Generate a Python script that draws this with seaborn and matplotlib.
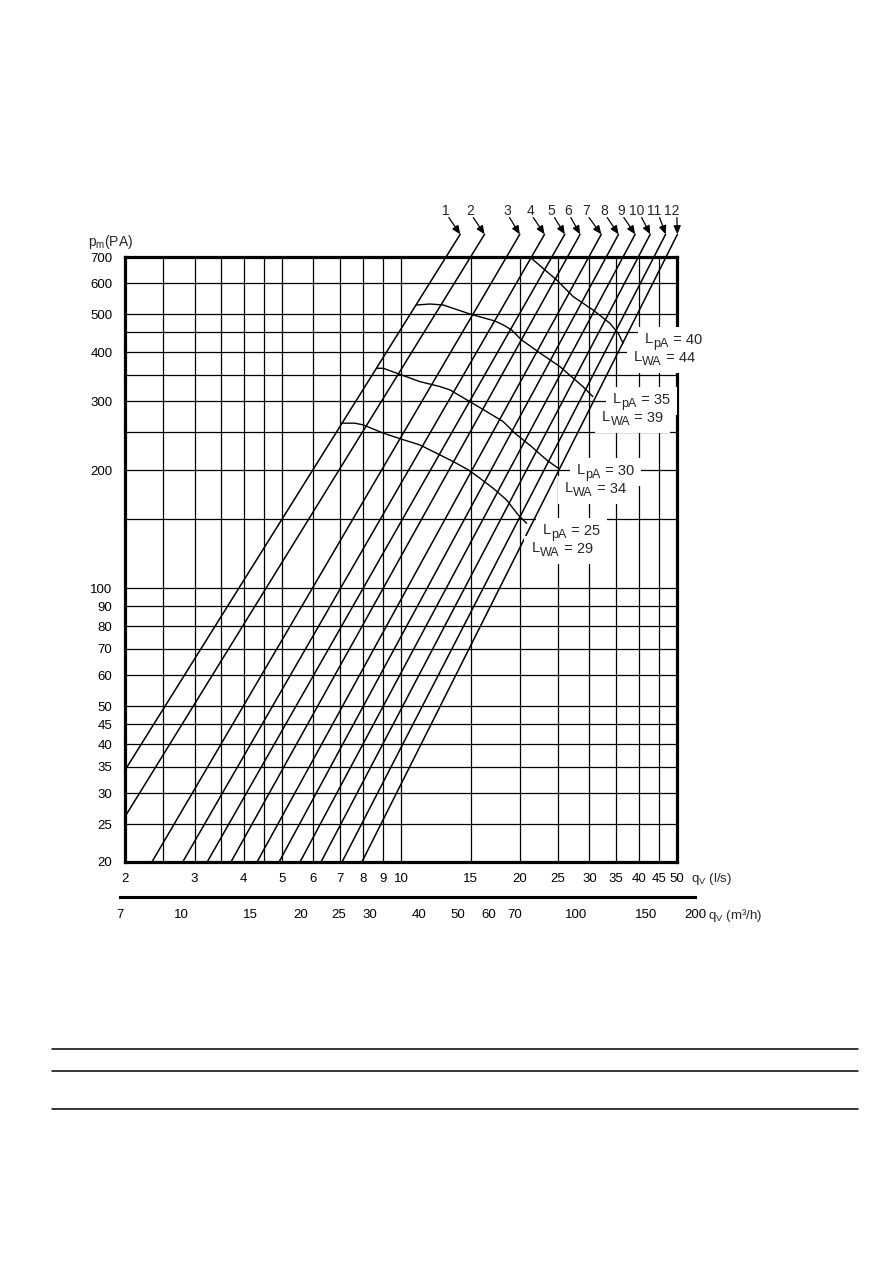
import numpy as np
import pandas as pd
import matplotlib
matplotlib.use("Agg")
import matplotlib.pyplot as plt
from matplotlib.lines import Line2D
from matplotlib.patches import Rectangle
from matplotlib.transforms import Bbox, IdentityTransform
from matplotlib.ticker import FixedLocator, FixedFormatter, NullFormatter
import seaborn as sns

# ---------------- data ----------------
LINE_IDS = [1, 2, 3, 4, 5, 6, 7, 8, 9, 10, 11, 12]
LINE_Q_START = [2.0, 2.0, 2.34, 2.80, 3.23, 3.71, 4.32, 4.91, 5.55, 6.27, 7.09, 7.96]     # l/s
LINE_P_START = [34.3, 26.1, 20, 20, 20, 20, 20, 20, 20, 20, 20, 20]                         # Pa
LINE_Q_AT_700 = [13.0, 15.0, 18.5, 21.4, 24.1, 26.4, 29.9, 33.1, 36.5, 39.9, 43.7, 46.9]   # l/s at 700 Pa
P_REF = 700
P_TIP = 800

C25_Q = [7.07, 7.64, 8.02, 9.02, 10.03, 11.16, 12.3, 13.56, 14.8, 15.84, 17.11, 18.5, 19.8, 20.8]
C25_P = [263.6, 263.6, 261, 248.6, 240, 232, 221, 210.4, 200.4, 190.8, 179.9, 168, 153.8, 146.4]
C30_Q = [8.67, 9.02, 10.03, 11.16, 12.55, 13.3, 14.94, 16.47, 18.15, 19.42, 21.4, 23.37, 25.0]
C30_P = [364, 364, 350, 336.6, 326.9, 320.6, 299.2, 282.2, 266.1, 248.6, 229.8, 212.4, 202.4]
C35_Q = [10.95, 11.84, 12.79, 14.94, 17.29, 18.15, 19.06, 20.2, 22.47, 25.26, 28.88, 30.6]
C35_P = [528, 531, 528, 500.8, 480.6, 469.6, 456, 430, 398.4, 367.6, 326.9, 308.2]
C40_Q = [21.2, 24.78, 27.29, 30.66, 33.8, 35.5, 36.5]
C40_P = [700, 611.8, 554.6, 512.6, 474.2, 447.2, 421.8]
LPA_LEVELS = [25, 30, 35, 40]
LWA_LEVELS = [29, 34, 39, 44]
# label anchors (left edge, vertical centre) for the noise labels, in chart units
LPA_LABEL_Q = [22.9, 27.9, 34.4, 41.5]
LPA_LABEL_P = [141.7, 201, 305.8, 435]
LWA_LABEL_Q = [21.4, 26.0, 32.3, 38.9]
LWA_LABEL_P = [127.5, 181.3, 275, 391]

X_LABEL_TICKS = [2, 3, 4, 5, 6, 7, 8, 9, 10, 15, 20, 25, 30, 35, 40, 45, 50]
X_EXTRA_GRID = [2.5, 3.5, 4.5]
Y_LABEL_TICKS = [20, 25, 30, 35, 40, 45, 50, 60, 70, 80, 90, 100, 200, 300, 400, 500, 600, 700]
Y_EXTRA_GRID = [150, 250, 350, 450]
M3H_TICKS = [7, 10, 15, 20, 25, 30, 40, 50, 60, 70, 100, 150, 200]
M3H_MINOR = [8, 9, 80, 90]
M3H_PER_LS = 3.6

# ---------------- style ----------------
sns.set_style("white")
plt.rcParams["font.family"] = ["Liberation Sans", "DejaVu Sans"]
plt.rcParams["mathtext.fontset"] = "custom"
plt.rcParams["mathtext.rm"] = "Liberation Sans"
plt.rcParams["mathtext.it"] = "Liberation Sans"

W, H = 893, 1263
fig = plt.figure(figsize=(W / 100, H / 100), dpi=100)
fig.patch.set_facecolor("white")

ax = fig.add_axes([125 / W, 1 - 862 / H, 552 / W, 605 / H])
ax.set_xscale("log")
ax.set_yscale("log")
ax.set_xlim(2, 50)
ax.set_ylim(20, 700)

# ---- grid ----
ax.xaxis.set_major_locator(FixedLocator(X_LABEL_TICKS))
ax.xaxis.set_major_formatter(FixedFormatter([str(v) for v in X_LABEL_TICKS]))
ax.xaxis.set_minor_locator(FixedLocator(X_EXTRA_GRID))
ax.xaxis.set_minor_formatter(NullFormatter())
ax.yaxis.set_major_locator(FixedLocator(Y_LABEL_TICKS))
ax.yaxis.set_major_formatter(FixedFormatter([str(v) for v in Y_LABEL_TICKS]))
ax.yaxis.set_minor_locator(FixedLocator(Y_EXTRA_GRID))
ax.yaxis.set_minor_formatter(NullFormatter())
ax.grid(True, which="both", color="black", linewidth=0.9)
ax.set_axisbelow(True)
ax.tick_params(axis="both", which="both", length=0, labelsize=9.5, colors="black")
ax.tick_params(axis="x", pad=8)
ax.tick_params(axis="y", pad=9)
for s in ax.spines.values():
    s.set_linewidth(2.3)
    s.set_color("black")

# ---- the 12 straight characteristic lines ----
rows = []
tips = []
for lid, q0, p0, q1 in zip(LINE_IDS, LINE_Q_START, LINE_P_START, LINE_Q_AT_700):
    lq0, lp0, lq1, lp1 = np.log10(q0), np.log10(p0), np.log10(q1), np.log10(P_REF)
    slope = (lp1 - lp0) / (lq1 - lq0)
    q_tip = 10 ** (lq1 + (np.log10(P_TIP) - lp1) / slope)
    tips.append(q_tip)
    rows.append({"line": lid, "q": q0, "p": p0})
    rows.append({"line": lid, "q": q1, "p": P_REF})
    rows.append({"line": lid, "q": q_tip, "p": P_TIP})
df_lines = pd.DataFrame(rows)
n_before = len(ax.lines)
sns.lineplot(data=df_lines, x="q", y="p", units="line", estimator=None, sort=False,
             color="black", linewidth=1.1, legend=False, ax=ax)
for ln in ax.lines[n_before:]:
    ln.set_clip_on(False)

# ---- noise curves ----
curve_rows = []
for lev, qs, ps in zip(LPA_LEVELS, [C25_Q, C30_Q, C35_Q, C40_Q], [C25_P, C30_P, C35_P, C40_P]):
    for i, (q, p) in enumerate(zip(qs, ps)):
        curve_rows.append({"level": lev, "order": i, "q": q, "p": p})
df_curves = pd.DataFrame(curve_rows)
sns.lineplot(data=df_curves, x="q", y="p", units="level", estimator=None, sort=False,
             color="black", linewidth=1.0, legend=False, ax=ax)

ax.set_xlabel("")
ax.set_ylabel("")
ax.set_xlim(2, 50)
ax.set_ylim(20, 700)

# ---- line number labels with arrows ----
LABEL_DX = [-14, -14, -13, -14, -13, -12, -15, -14, -14, -14, -11, -6]
for lid, qt, dx in zip(LINE_IDS, tips, LABEL_DX):
    ax.annotate(str(lid), xy=(qt, P_TIP), xycoords="data",
                xytext=(dx, 23), textcoords="offset pixels",
                ha="center", va="center", fontsize=10, annotation_clip=False,
                arrowprops=dict(arrowstyle="-|>,head_length=0.5,head_width=0.22",
                                color="black", lw=0.9, shrinkA=0, shrinkB=0,
                                patchA=None, relpos=(0.85, 0.05)))

# ---- noise labels (L + lowered subscript + value), white box behind ----
renderer = fig.canvas.get_renderer()
PAD = 7


def sub_label(q, p, main, sub, rest):
    kw = dict(xy=(q, p), xycoords="data", textcoords="offset pixels",
              ha="left", va="baseline", zorder=7, annotation_clip=False)
    t1 = ax.annotate(main, xytext=(0, -5), fontsize=10.5, **kw)
    b1 = t1.get_window_extent(renderer)
    t2 = ax.annotate(sub, xytext=(b1.width + 0.3, -9), fontsize=9, **kw)
    b2 = t2.get_window_extent(renderer)
    t3 = ax.annotate(rest, xytext=(b1.width + b2.width + 0.3, -6), fontsize=10.5, **kw)
    b3 = t3.get_window_extent(renderer)
    bb = Bbox.union([b1, b2, b3])
    ax.add_patch(Rectangle((bb.x0 - PAD, bb.y0 - PAD + 2), bb.width + 2 * PAD,
                           bb.height + 2 * PAD - 4, transform=IdentityTransform(),
                           facecolor="white", edgecolor="none", zorder=6, clip_on=False))


for lev, q, p in zip(LPA_LEVELS, LPA_LABEL_Q, LPA_LABEL_P):
    sub_label(q, p, "L", "pA", " = %d" % lev)
for lev, q, p in zip(LWA_LEVELS, LWA_LABEL_Q, LWA_LABEL_P):
    sub_label(q, p, "L", "WA", " = %d" % lev)

# ---- axis titles ----
fig.text(88 / W, 1 - 242 / H, r"$\mathregular{p_m}$(PA)", ha="left", va="center", fontsize=10)
fig.text(691 / W, 1 - 879 / H, r"$\mathregular{q_V}$ (l/s)", ha="left", va="center", fontsize=9.5)

# ---- secondary m3/h scale ----
def q_to_figx(q):
    disp = ax.transData.transform((q, 100))
    return fig.transFigure.inverted().transform(disp)[0]


x0 = q_to_figx(M3H_TICKS[0] / M3H_PER_LS)
x1 = q_to_figx(M3H_TICKS[-1] / M3H_PER_LS)
ax2 = fig.add_axes([x0, 1 - 897 / H, x1 - x0, 0.0005])
ax2.set_xscale("log")
ax2.set_xlim(M3H_TICKS[0], M3H_TICKS[-1])
ax2.patch.set_visible(False)
for k in ["top", "left", "right"]:
    ax2.spines[k].set_visible(False)
ax2.spines["bottom"].set_linewidth(2.2)
ax2.spines["bottom"].set_color("black")
ax2.set_yticks([])
ax2.xaxis.set_major_locator(FixedLocator(M3H_TICKS))
ax2.xaxis.set_major_formatter(FixedFormatter([str(v) for v in M3H_TICKS]))
ax2.xaxis.set_minor_locator(FixedLocator(M3H_MINOR))
ax2.xaxis.set_minor_formatter(NullFormatter())
ax2.tick_params(axis="x", which="both", direction="inout", length=7, width=1,
                colors="black", labelsize=9.5, pad=5)
fig.text(708 / W, 1 - 915 / H, r"$\mathregular{q_V}$ (m³/h)", ha="left", va="center", fontsize=9.5)

# ---- page rules below the chart ----
for yy in [1049, 1071, 1109]:
    fig.add_artist(Line2D([52 / W, 858 / W], [1 - yy / H, 1 - yy / H],
                          transform=fig.transFigure, color="black", linewidth=1.1))

fig.savefig("out.png", dpi=100, facecolor="white")
